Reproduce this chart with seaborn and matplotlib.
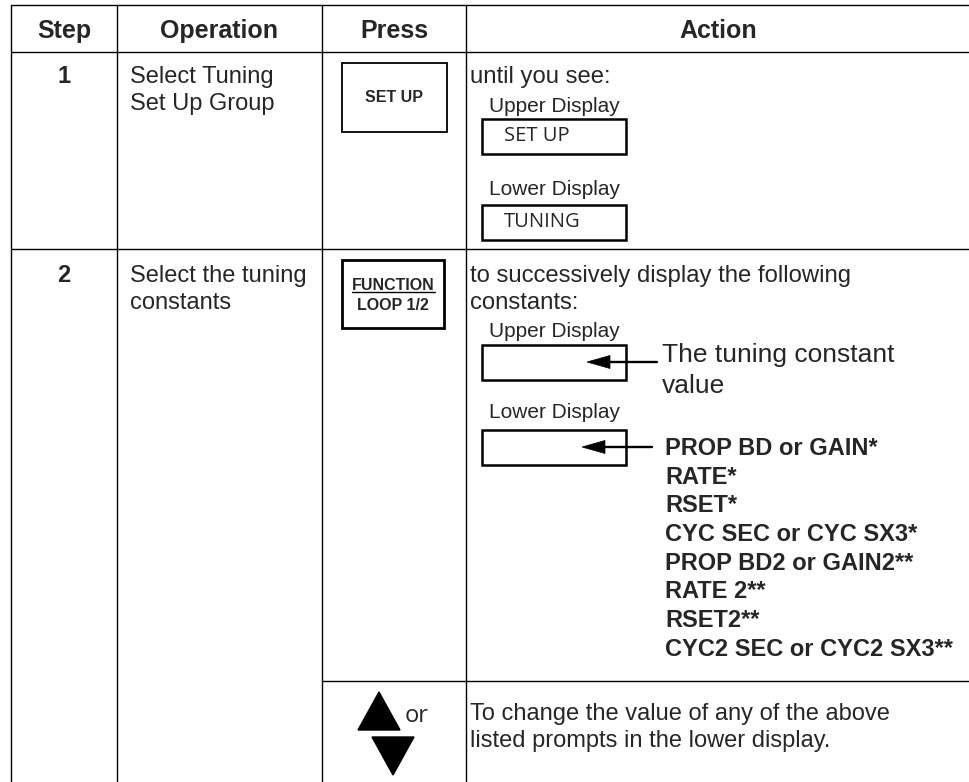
import matplotlib
matplotlib.use("Agg")
import matplotlib.pyplot as plt
from matplotlib.patches import Rectangle, Polygon
import seaborn as sns

sns.set_theme(style="white")
plt.rcParams['font.family'] = ['Liberation Sans', 'DejaVu Sans']

# -- table content
headers = ["Step", "Operation", "Press", "Action"]
steps = ["1", "2"]
operations = [["Select Tuning", "Set Up Group"],
              ["Select the tuning", "constants"]]
press_keys = [["SET UP"], ["FUNCTION", "LOOP 1/2"]]
action_intro = [["until you see:"],
                ["to successively display the following", "constants:"]]
display_labels = ["Upper Display", "Lower Display"]
display_values = ["SET UP", "TUNING"]
tuning_note = ["The tuning constant", "value"]
tuning_prompts = ["PROP BD or GAIN*", "RATE*", "RSET*", "CYC SEC or CYC SX3*",
                  "PROP BD2 or GAIN2**", "RATE 2**", "RSET2**",
                  "CYC2 SEC or CYC2 SX3**"]
arrow_or = "or"
change_text = ["To change the value of any of the above",
               "listed prompts in the lower display."]

# -- layout (pixels)
W, H = 970, 782
col_x = [11, 117, 322, 466]
row_y = [5, 52, 249, 681]
LW = 1.0
DISP_FONT = ['Open Sans', 'DejaVu Sans']

fig = plt.figure(figsize=(W / 100, H / 100), dpi=100)
ax = fig.add_axes([0, 0, 1, 1])
ax.set_xlim(0, W)
ax.set_ylim(H, 0)
ax.axis("off")

# grid lines
for y in row_y[:3]:
    ax.plot([col_x[0], W], [y, y], color="black", lw=LW, solid_capstyle="butt")
ax.plot([col_x[2], W], [row_y[3], row_y[3]], color="black", lw=LW)
for x in col_x:
    ax.plot([x, x], [row_y[0], H], color="black", lw=LW)

# header
hdr_cx = [(col_x[0] + col_x[1]) / 2, (col_x[1] + col_x[2]) / 2,
          (col_x[2] + col_x[3]) / 2, (col_x[3] + W) / 2]
for cx, h in zip(hdr_cx, headers):
    ax.text(cx, 38, h, ha="center", va="baseline", fontsize=18,
            fontweight="bold")

# step numbers and operations
row_base = [83, 282]
for i in range(2):
    ax.text(hdr_cx[0], row_base[i], steps[i], ha="center", va="baseline",
            fontsize=17, fontweight="bold")
    for j, line in enumerate(operations[i]):
        ax.text(130, row_base[i] + 27 * j, line, ha="left", va="baseline",
                fontsize=17)
    for j, line in enumerate(action_intro[i]):
        ax.text(470, row_base[i] + 27 * j, line, ha="left", va="baseline",
                fontsize=17.2)

# press buttons
ax.add_patch(Rectangle((342, 63), 105, 69, fill=False, lw=1.3, ec="black"))
ax.text(394, 98, press_keys[0][0], ha="center", va="center", fontsize=11.5,
        fontweight="bold")
ax.add_patch(Rectangle((342, 260), 102, 68, fill=False, lw=2.0, ec="black"))
ax.text(393, 285, press_keys[1][0], ha="center", va="center", fontsize=11.5,
        fontweight="bold")
ax.plot([352, 435], [292, 292], color="black", lw=1.0)
ax.text(393, 306, press_keys[1][1], ha="center", va="center", fontsize=11.5,
        fontweight="bold")

# row 1 displays
disp_label_base = [112, 195]
disp_box_top = [119, 205]
for k in range(2):
    ax.text(489, disp_label_base[k], display_labels[k], ha="left",
            va="baseline", fontsize=15)
    ax.add_patch(Rectangle((482, disp_box_top[k]), 144, 35, fill=False,
                           lw=1.8, ec="black"))
    ax.text(504, disp_box_top[k] + 17, display_values[k], ha="left",
            va="center", fontsize=14.5, family=DISP_FONT)

# row 2 displays with arrows
disp2_label_base = [337, 418]
disp2_box_top = [345, 430]
arrow_y = [362, 447]
arrow_tip = [587, 582]
arrow_end = [657, 652]
for k in range(2):
    ax.text(489, disp2_label_base[k], display_labels[k], ha="left",
            va="baseline", fontsize=15)
    ax.add_patch(Rectangle((482, disp2_box_top[k]), 144, 35, fill=False,
                           lw=1.8, ec="black"))
    ax.plot([arrow_tip[k] + 12, arrow_end[k]], [arrow_y[k], arrow_y[k]],
            color="black", lw=1.7)
    ax.add_patch(Polygon([(arrow_tip[k], arrow_y[k]),
                          (arrow_tip[k] + 23, arrow_y[k] - 6.5),
                          (arrow_tip[k] + 23, arrow_y[k] + 6.5)],
                         closed=True, fc="black", ec="black", lw=0.5))

for j, line in enumerate(tuning_note):
    ax.text(662, 362 + 31 * j, line, ha="left", va="baseline", fontsize=19)

for j, p in enumerate(tuning_prompts):
    ax.text(665, 455 + 28.7 * j, p, ha="left", va="baseline", fontsize=17,
            fontweight="bold")

# row 3: up / down keys
ax.add_patch(Polygon([(358, 730), (400, 730), (379, 692)], closed=True,
                     fc="black", ec="black"))
ax.add_patch(Polygon([(372, 737), (414, 737), (393, 775)], closed=True,
                     fc="black", ec="black"))
ax.text(405, 722, arrow_or, ha="left", va="baseline", fontsize=17,
        family=DISP_FONT)
for j, line in enumerate(change_text):
    ax.text(470, 720 + 27 * j, line, ha="left", va="baseline", fontsize=17)

fig.savefig("out.png", dpi=100, facecolor="white")
